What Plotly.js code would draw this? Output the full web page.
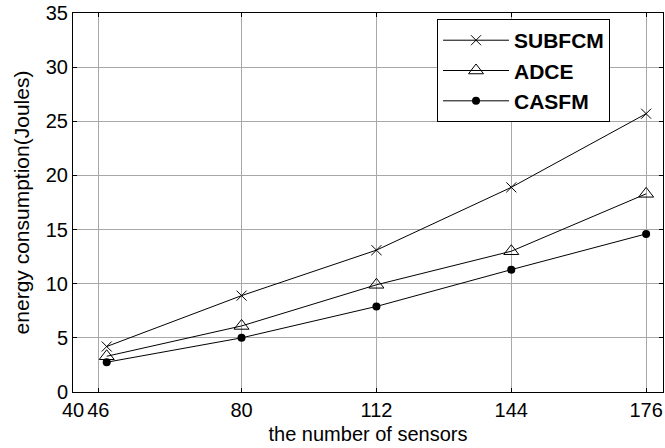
<!DOCTYPE html>
<html>
<head>
<meta charset="utf-8">
<script src="https://cdn.plot.ly/plotly-3.0.1.min.js"></script>
<style>html,body{margin:0;padding:0;background:#fff;}#chart{width:665px;height:448px;}</style>
</head>
<body>
<div id="chart"></div>
<script>
var sensors = [48, 80, 112, 144, 176];
var subfcm = [4.2, 8.9, 13.1, 18.9, 25.7];
var adce = [3.3, 6.1, 9.9, 13.0, 18.3];
var casfm = [2.75, 5.0, 7.9, 11.3, 14.6];
var xTicks = [40, 46, 80, 112, 144, 176];
var yTicks = [0, 5, 10, 15, 20, 25, 30, 35];

var traces = [
  {x: sensors, y: subfcm, name: 'SUBFCM', mode: 'lines+markers', line: {color: '#000', width: 1},
   marker: {symbol: 'x-thin-open', size: 10, color: '#000', line: {width: 1, color: '#000'}}},
  {x: sensors, y: adce, name: 'ADCE', mode: 'lines+markers', line: {color: '#000', width: 1},
   marker: {symbol: 'triangle-up-open', size: 13, color: '#000', line: {width: 1, color: '#000'}}},
  {x: sensors, y: casfm, name: 'CASFM', mode: 'lines+markers', line: {color: '#000', width: 1},
   marker: {symbol: 'circle', size: 8, color: '#000'}}
];

var fam = 'Liberation Sans, Arial, sans-serif';
var axisFont = {family: fam, size: 20, color: '#000'};
var layout = {
  width: 665, height: 448,
  margin: {l: 73, r: 2, t: 13, b: 56},
  paper_bgcolor: '#fff', plot_bgcolor: '#fff',
  font: {family: fam, color: '#000'},
  xaxis: {
    range: [40, 180], tickvals: xTicks, ticktext: xTicks.map(String),
    showgrid: true, gridcolor: '#a8a8a8', gridwidth: 1, zeroline: false,
    showline: true, linecolor: '#000', linewidth: 1, mirror: 'ticks',
    ticks: 'inside', ticklen: 4, tickcolor: '#000', tickfont: axisFont,
    title: {text: 'the number of sensors', font: {family: fam, size: 20, color: '#000'}, standoff: 6}
  },
  yaxis: {
    range: [0, 35], tickvals: yTicks,
    showgrid: true, gridcolor: '#a8a8a8', gridwidth: 1, zeroline: false,
    showline: true, linecolor: '#000', linewidth: 1, mirror: 'ticks',
    ticks: 'inside', ticklen: 4, tickcolor: '#000', tickfont: axisFont,
    title: {text: 'energy consumption(Joules)', font: {family: fam, size: 21, color: '#000'}, standoff: 10}
  },
  legend: {
    x: 0.617, y: 0.984, xanchor: 'left', yanchor: 'top',
    bgcolor: '#fff', bordercolor: '#000', borderwidth: 1,
    font: {family: fam, size: 21, color: '#000', weight: 'bold'},
    itemwidth: 66, tracegroupgap: 0
  },
  showlegend: true
};
Plotly.newPlot('chart', traces, layout, {displayModeBar: false, staticPlot: true});
</script>
</body>
</html>
